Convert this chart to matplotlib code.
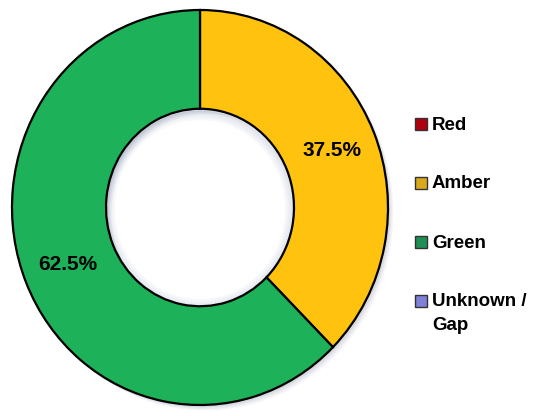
import matplotlib.pyplot as plt
from matplotlib.patches import Rectangle, Wedge

categories = ["Red", "Amber", "Green", "Unknown /\nGap"]
shares = [0.0, 37.5, 62.5, 0.0]
slice_colors = ["#C00000", "#FFC20E", "#1DB25A", "#8C8CE6"]
legend_colors = ["#B00010", "#D9A81C", "#1E8F55", "#8080D8"]

plt.rcParams["font.family"] = ["Liberation Sans", "DejaVu Sans"]

W, H = 533, 416
fig = plt.figure(figsize=(W / 100, H / 100), dpi=100)

# ring is drawn slightly taller than wide
cx, cy, rx, ry = 200, 207.5, 188, 197.5
lim = 1.03
ax = fig.add_axes([(cx - rx * lim) / W, (H - cy - ry * lim) / H,
                   2 * rx * lim / W, 2 * ry * lim / H])

# only slices with a value get drawn
vals = [v for v in shares if v > 0]
cols = [c for v, c in zip(shares, slice_colors) if v > 0]
ring = 0.5

# soft drop shadow behind the ring
for k, a in enumerate([0.10, 0.08, 0.06]):
    off = 0.012 + 0.008 * k
    ax.add_patch(Wedge((off, -off), 1.0, 0, 360, width=ring,
                       facecolor="#556080", alpha=a, edgecolor="none"))

# faint shading just inside the hole
for k in range(6):
    r = (1 - ring) - 0.008 * k
    ax.add_patch(Wedge((0, -0.01), r, 0, 360, width=0.008,
                       facecolor="#7080A8", alpha=0.22 - 0.035 * k,
                       edgecolor="none"))

wedges, texts, autotexts = ax.pie(
    vals,
    colors=cols,
    startangle=90,
    counterclock=False,
    radius=1.0,
    autopct="%1.1f%%",
    pctdistance=0.76,
    wedgeprops=dict(width=ring, edgecolor="black", linewidth=1.6),
    textprops=dict(fontsize=15, fontweight="bold", color="black"),
)

ax.set_xlim(-lim, lim)
ax.set_ylim(-lim, lim)
ax.set_aspect("auto")
ax.axis("off")

# legend: square swatch + bold label, one row per category
x_box, x_txt = 415 / W, 432 / W
box = 12
for i, (name, c) in enumerate(zip(categories, legend_colors)):
    yc = 124 + i * 59
    fig.patches.append(Rectangle(
        (x_box, 1 - (yc + box / 2) / H), box / W, box / H,
        transform=fig.transFigure, facecolor=c,
        edgecolor="#333333", linewidth=1.0))
    fig.text(x_txt, 1 - (yc - 7.5) / H, name, ha="left", va="top",
             fontsize=13.5, fontweight="bold", linespacing=1.5)

fig.savefig("out.png", dpi=100)
